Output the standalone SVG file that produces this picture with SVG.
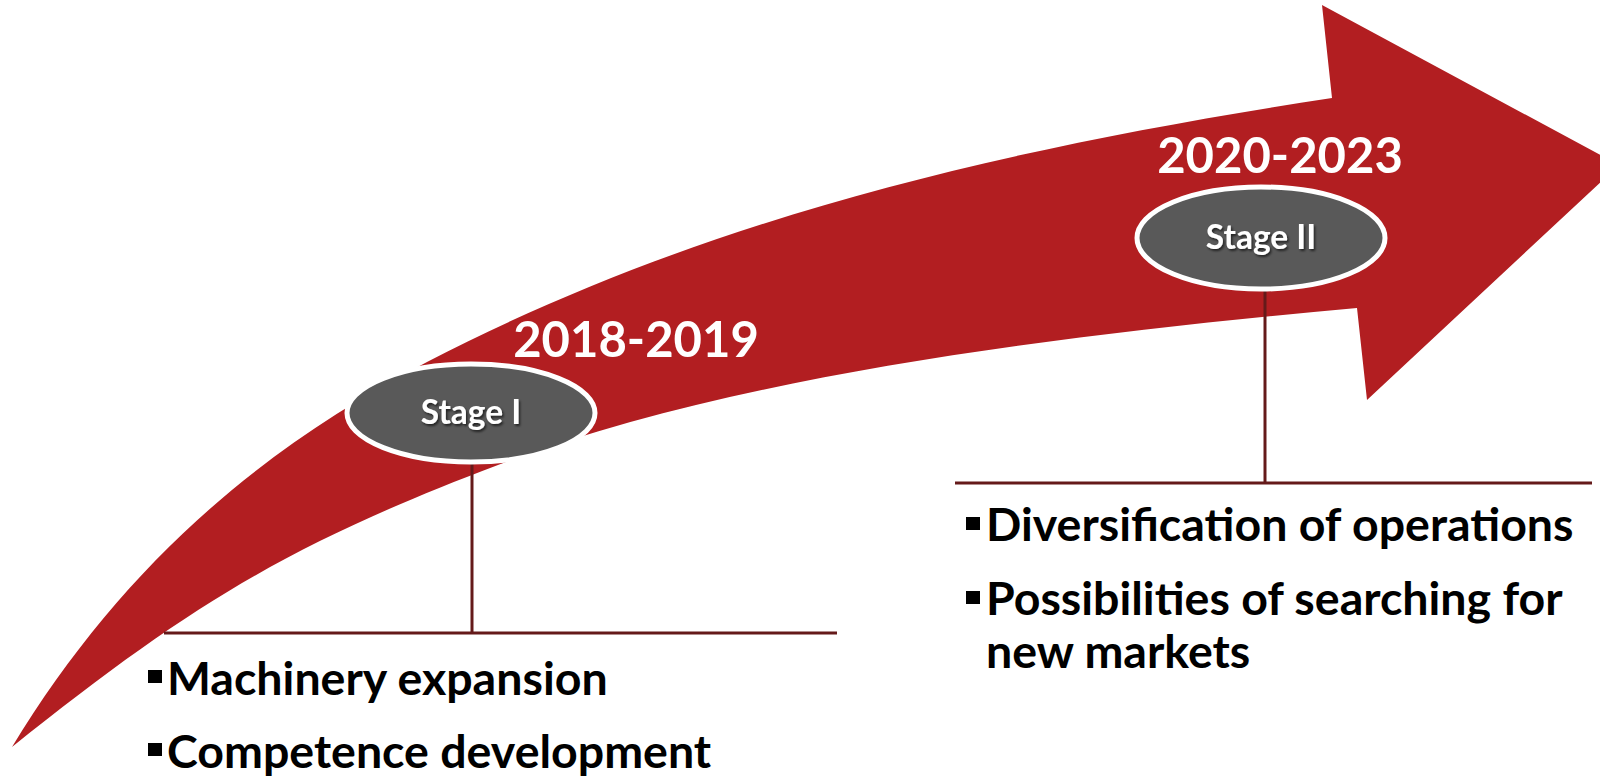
<svg xmlns="http://www.w3.org/2000/svg" width="1600" height="777" viewBox="0 0 1600 777">
<style>
.arrow{fill:#b21e21}
.stage{fill:#595959;stroke:#ffffff;stroke-width:5}
.stxt{font-family:Lato,"Open Sans","Liberation Sans",sans-serif;font-weight:bold;font-size:33.5px;fill:#ffffff;text-anchor:middle;filter:url(#sh)}
.year{font-family:Lato,"Open Sans","Liberation Sans",sans-serif;font-weight:bold;font-size:49px;fill:#ffffff;text-anchor:middle}
.btxt{font-family:Lato,"Open Sans","Liberation Sans",sans-serif;font-weight:bold;font-size:46.5px;fill:#000000}
.bul{fill:#000000}
.conn{stroke:#651a1a;stroke-width:3;fill:none}
</style>
<defs>
<filter id="sh" x="-20%" y="-40%" width="140%" height="180%">
<feDropShadow dx="1.5" dy="2" stdDeviation="1" flood-color="#000000" flood-opacity="0.6"/>
</filter>
</defs>
<rect width="1600" height="777" fill="#ffffff"/>
<path id="arrow" class="arrow" d="M12,747 C116,576 250,454 427,362 C693,224 986,150.5 1332,98 L1322,5 L1619,165 L1367,400 L1357,308 C1058,335 732,376 498,465 C292,543 192,603 12,747 Z"/>
<g id="connectors">
<line class="conn" x1="472" y1="464" x2="472" y2="633"/>
<line class="conn" x1="164" y1="633" x2="837" y2="633"/>
<line class="conn" x1="1265" y1="291" x2="1265" y2="483"/>
<line class="conn" x1="955" y1="483" x2="1592" y2="483"/>
</g>
<g id="year1"><text class="year" x="636" y="357">2018-2019</text></g>
<g id="year2"><text class="year" x="1280" y="173">2020-2023</text></g>
<g id="stage1">
<ellipse class="stage" cx="471" cy="413" rx="124" ry="49"/>
<text class="stxt" x="471" y="424">Stage I</text>
</g>
<g id="stage2">
<ellipse class="stage" cx="1261" cy="238" rx="124" ry="51"/>
<text class="stxt" x="1261" y="249">Stage II</text>
</g>
<g id="list1">
<rect class="bul" x="148" y="670" width="14" height="13"/>
<text class="btxt" x="167" y="695">Machinery expansion</text>
<rect class="bul" x="148" y="743" width="14" height="13"/>
<text class="btxt" x="167" y="768">Competence development</text>
</g>
<g id="list2">
<rect class="bul" x="966" y="517" width="14" height="13"/>
<text class="btxt" x="986" y="541">Diversification of operations</text>
<rect class="bul" x="966" y="591" width="14" height="13"/>
<text class="btxt" x="986" y="615">Possibilities of searching for</text>
<text class="btxt" x="986" y="668">new markets</text>
</g>
</svg>
